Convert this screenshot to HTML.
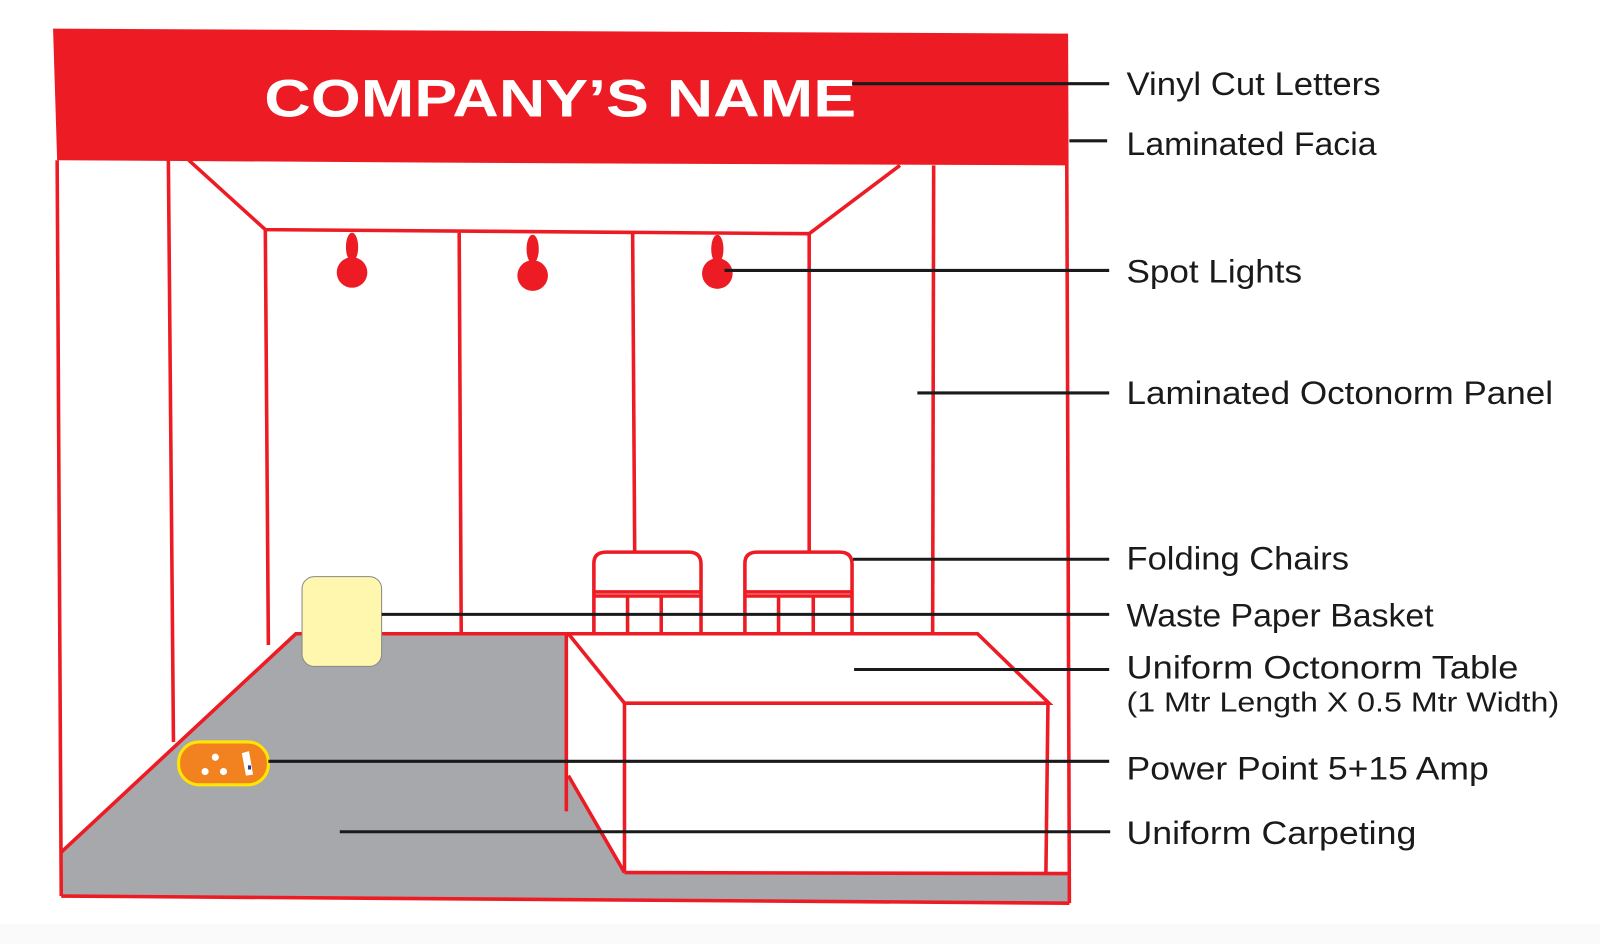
<!DOCTYPE html>
<html><head><meta charset="utf-8"><style>
html,body{margin:0;padding:0;background:#fff;}
svg{display:block}
text{font-family:"Liberation Sans",sans-serif;fill:#1a1a1a}
</style></head><body>
<svg width="1600" height="944" viewBox="0 0 1568 925" preserveAspectRatio="none">
<rect x="0" y="0" width="1568" height="925" fill="#fff"/>
<rect x="0" y="905" width="1568" height="20" fill="#fafafa"/>
<polygon points="60,835 290,621 555,621 555,760 612,855 1048,855 1048,885 60,878" fill="#a7a8ab"/>
<g fill="none" stroke="#ed1c24" stroke-width="3.5">
<polyline points="60,835 290,621 555,621"/>
<line x1="56" y1="157" x2="60" y2="878"/>
<line x1="60" y1="878" x2="1048" y2="885"/>
<line x1="1045" y1="33" x2="1048" y2="885"/>
<line x1="165" y1="157" x2="170" y2="727"/>
<polyline points="185,157 260,225 793,229 882,162"/>
<line x1="260" y1="225" x2="263" y2="632"/>
<line x1="450" y1="228" x2="452" y2="621"/>
<line x1="620" y1="229" x2="622" y2="540"/>
<line x1="793" y1="229" x2="793" y2="540"/>
<line x1="915" y1="162" x2="914" y2="621"/>
<path d="M582,621 V552 Q582,541 594,541 H675 Q687,541 687,553 V621"/>
<line x1="582" y1="580" x2="687" y2="580"/>
<line x1="582" y1="584" x2="687" y2="584"/>
<line x1="615" y1="584" x2="615" y2="621"/>
<line x1="648" y1="584" x2="648" y2="621"/>
<path d="M730,621 V552 Q730,541 742,541 H823 Q835,541 835,553 V621"/>
<line x1="730" y1="580" x2="835" y2="580"/>
<line x1="730" y1="584" x2="835" y2="584"/>
<line x1="763" y1="584" x2="763" y2="621"/>
<line x1="797" y1="584" x2="797" y2="621"/>
</g>
<polygon points="557,623 612,689 612,855 557,760" fill="#fff"/>
<rect x="612" y="689" width="415" height="166" fill="#fff"/>
<polygon points="557,621 958,621 1028,689 612,689" fill="#fff"/>
<g fill="none" stroke="#ed1c24" stroke-width="3.5">
<polygon points="557,621 958,621 1028,689 612,689"/>
<line x1="612" y1="689" x2="612" y2="855"/>
<line x1="1027" y1="689" x2="1025" y2="855"/>
<line x1="612" y1="855" x2="1048" y2="856"/>
<line x1="555" y1="621" x2="555" y2="795"/>
<line x1="557" y1="760" x2="612" y2="855"/>
</g>
<polygon points="52,28 1045,33 1046,162 545,160 56,157" fill="#ed1c24"/>
<text x="549" y="114" text-anchor="middle" font-size="52" font-weight="bold" style="fill:#fff" textLength="580" lengthAdjust="spacingAndGlyphs">COMPANY’S NAME</text>
<g fill="#ed1c24">
<ellipse cx="345" cy="242" rx="6" ry="14"/><circle cx="345" cy="267" r="15"/>
<ellipse cx="522" cy="244" rx="6" ry="14"/><circle cx="522" cy="270" r="15"/>
<ellipse cx="703" cy="244" rx="6" ry="14"/><circle cx="703" cy="268" r="15"/>
</g>
<rect x="296" y="565" width="78" height="88" rx="12" fill="#fff7ad" stroke="#888" stroke-width="1"/>
<rect x="175" y="727" width="88" height="42" rx="20" fill="#f28220" stroke="#ffe500" stroke-width="3"/>
<circle cx="211" cy="742" r="3.5" fill="#fff"/><circle cx="201" cy="756" r="3.5" fill="#fff"/><circle cx="219" cy="756" r="3.5" fill="#fff"/>
<polygon points="237,738 244,736 248,759 241,760" fill="#fff"/>
<rect x="243" y="750" width="3" height="4" fill="#2a3a9a"/>
<g stroke="#1a1a1a" stroke-width="3">
<line x1="835" y1="82" x2="1087" y2="82"/>
<line x1="1048" y1="138" x2="1085" y2="138"/>
<line x1="710" y1="265" x2="1087" y2="265"/>
<line x1="899" y1="385" x2="1087" y2="385"/>
<line x1="836" y1="548" x2="1087" y2="548"/>
<line x1="374" y1="602" x2="1087" y2="602"/>
<line x1="837" y1="656" x2="1087" y2="656"/>
<line x1="263" y1="746" x2="1087" y2="746"/>
<line x1="333" y1="815" x2="1088" y2="815"/>
</g>
<g font-size="32">
<text x="1104" y="93" textLength="249" lengthAdjust="spacingAndGlyphs">Vinyl Cut Letters</text>
<text x="1104" y="152" textLength="245" lengthAdjust="spacingAndGlyphs">Laminated Facia</text>
<text x="1104" y="277" textLength="172" lengthAdjust="spacingAndGlyphs">Spot Lights</text>
<text x="1104" y="396" textLength="418" lengthAdjust="spacingAndGlyphs">Laminated Octonorm Panel</text>
<text x="1104" y="558" textLength="218" lengthAdjust="spacingAndGlyphs">Folding Chairs</text>
<text x="1104" y="614" textLength="301" lengthAdjust="spacingAndGlyphs">Waste Paper Basket</text>
<text x="1104" y="665" textLength="384" lengthAdjust="spacingAndGlyphs">Uniform Octonorm Table</text>
<text x="1104" y="764" textLength="355" lengthAdjust="spacingAndGlyphs">Power Point 5+15 Amp</text>
<text x="1104" y="827" textLength="284" lengthAdjust="spacingAndGlyphs">Uniform Carpeting</text>
</g>
<text x="1104" y="697" font-size="27" textLength="424" lengthAdjust="spacingAndGlyphs">(1 Mtr Length X 0.5 Mtr Width)</text>
</svg>
</body></html>
